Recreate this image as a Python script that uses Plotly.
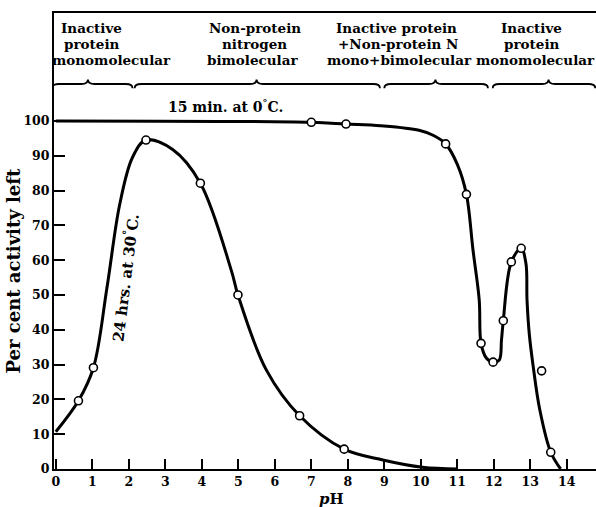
import plotly.graph_objects as go

# ---- data ----
# 15 min. at 0 C : smooth curve path and observed points
cold_curve_ph = [0, 7.0, 7.95, 8.9, 9.95, 10.35, 10.68, 11.0, 11.25, 11.43, 11.6, 11.65, 11.8, 11.98,
                 12.15, 12.21, 12.26, 12.48, 12.75, 12.88, 12.91, 12.97, 13.08, 13.26, 13.56, 13.83]
cold_curve_act = [100, 99.6, 99.1, 98.6, 97.3, 95.8, 93.4, 87.5, 78.9, 62.9, 48.6, 36.1, 31.8, 30.7,
                  31.3, 37, 42.6, 59.5, 63.4, 59.1, 48.6, 39, 29.4, 17, 4.8, 0]
cold_obs_ph = [7.0, 7.95, 10.68, 11.25, 11.65, 11.98, 12.26, 12.48, 12.75, 13.31, 13.56]
cold_obs_act = [99.6, 99.1, 93.4, 78.9, 36.1, 30.7, 42.6, 59.5, 63.4, 28.2, 4.8]

# 24 hrs. at 30 C
warm_curve_ph = [0, 0.62, 1.03, 1.4, 1.75, 2.1, 2.47, 3.21, 3.96, 4.81, 4.99, 5.77,
                 6.68, 7.9, 8.96, 10.05, 11.0]
warm_curve_act = [10.7, 19.6, 29.1, 52, 76, 89.5, 94.5, 91.7, 82.1, 57, 50, 28.4,
                  15.3, 5.7, 2.6, 0.5, 0]
warm_obs_ph = [0.62, 1.03, 2.47, 3.96, 4.99, 6.68, 7.9]
warm_obs_act = [19.6, 29.1, 94.5, 82.1, 50, 15.3, 5.7]

# header regions (three text lines each)
region_lines = [["Inactive", "protein", "monomolecular"],
                ["Non-protein", "nitrogen", "bimolecular"],
                ["Inactive protein", "+Non-protein N", "mono+bimolecular"],
                ["Inactive", "protein", "monomolecular"]]
region_line_ph = [[0.99, 0.99, 1.53],
                  [5.45, 5.45, 5.40],
                  [9.34, 9.37, 9.42],
                  [13.04, 13.04, 13.15]]
header_row_level = [126.7, 122.1, 117.5]
brace_start = [-0.1, 2.16, 9.0, 11.97]
brace_end = [2.1, 8.88, 11.84, 14.78]
brace_tip = [0.88, 5.5, 10.4, 13.5]

x_ticks = list(range(0, 15))
y_ticks = list(range(0, 101, 10))

SERIF = "DejaVu Serif"
fig = go.Figure()

line_style = dict(color="black", width=3, shape="spline", smoothing=1.0)
fig.add_trace(go.Scatter(x=cold_curve_ph, y=cold_curve_act, mode="lines", line=line_style,
                         hoverinfo="skip", showlegend=False))
fig.add_trace(go.Scatter(x=warm_curve_ph, y=warm_curve_act, mode="lines", line=line_style,
                         hoverinfo="skip", showlegend=False))
marker_style = dict(symbol="circle", size=8, color="white", line=dict(color="black", width=1.6))
fig.add_trace(go.Scatter(x=cold_obs_ph, y=cold_obs_act, mode="markers", marker=marker_style,
                         showlegend=False))
fig.add_trace(go.Scatter(x=warm_obs_ph, y=warm_obs_act, mode="markers", marker=marker_style,
                         showlegend=False))

# header labels
for lines, xs in zip(region_lines, region_line_ph):
    for txt, xc, yl in zip(lines, xs, header_row_level):
        fig.add_annotation(x=xc, y=yl, xref="x", yref="y", text=txt, showarrow=False,
                           font=dict(family=SERIF, size=13.5, color="black", weight="bold"),
                           xanchor="center", yanchor="middle")

# braces
yE, yM, yT = 109.4, 110.6, 111.9
for a, b, t in zip(brace_start, brace_end, brace_tip):
    d = 0.18
    path = (f"M {a},{yE} Q {a},{yM} {a+d},{yM} L {t-d},{yM} Q {t},{yM} {t},{yT} "
            f"Q {t},{yM} {t+d},{yM} L {b-d},{yM} Q {b},{yM} {b},{yE}")
    fig.add_shape(type="path", path=path, xref="x", yref="y",
                  line=dict(color="black", width=1.8))

# curve labels
fig.add_annotation(x=4.66, y=104.3, xref="x", yref="y", text="15 min. at 0<sup>°</sup>C.",
                   showarrow=False, font=dict(family=SERIF, size=14, color="black", weight="bold"))
fig.add_annotation(x=1.88, y=55, xref="x", yref="y", text="24 hrs. at 30<sup>°</sup>C.",
                   showarrow=False, textangle=-83,
                   font=dict(family=SERIF, size=15, color="black", weight="bold"))

# axis titles
fig.add_annotation(x=-0.074, y=57, xref="paper", yref="y", text="Per cent activity left",
                   showarrow=False, textangle=-90, xanchor="center", yanchor="middle",
                   font=dict(family=SERIF, size=18, color="black", weight="bold"))
fig.add_annotation(x=7.55, y=-0.066, xref="x", yref="paper", text="<i>p</i>H",
                   showarrow=False, yanchor="middle",
                   font=dict(family=SERIF, size=15, color="black", weight="bold"))

fig.update_layout(
    width=596, height=507,
    margin=dict(l=54, r=0, t=13, b=38),
    plot_bgcolor="white", paper_bgcolor="white",
)
fig.update_xaxes(range=[-0.05, 14.8], tickvals=x_ticks, ticks="inside", ticklen=10, tickwidth=2,
                 tickcolor="black", showline=True, linecolor="black", linewidth=2, mirror=True,
                 showgrid=False, zeroline=False, automargin=False,
                 tickfont=dict(family=SERIF, size=12.5, color="black", weight="bold"))
fig.update_yaxes(range=[0, 131], tickvals=y_ticks, ticks="inside", ticklen=11, tickwidth=2,
                 tickcolor="black", showline=True, linecolor="black", linewidth=2,
                 showgrid=False, zeroline=False, automargin=False,
                 tickfont=dict(family=SERIF, size=12.5, color="black", weight="bold"))

fig.write_html("out.html", config={"displayModeBar": False},
               post_script="document.body.style.margin='0';")
